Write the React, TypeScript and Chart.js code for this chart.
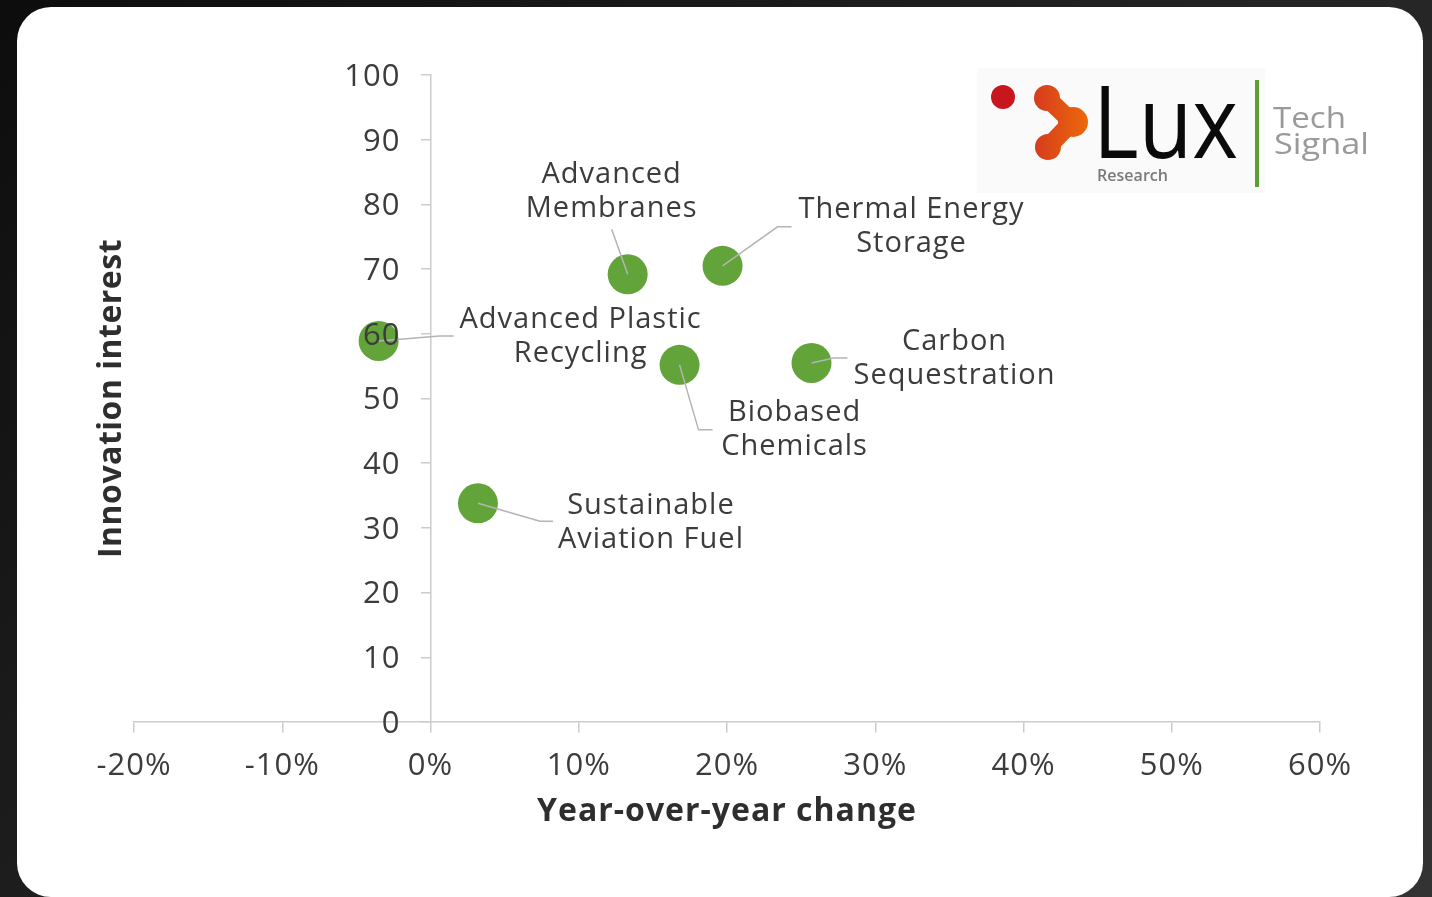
import React, { useEffect, useRef } from "react";
import { Chart, registerables } from "chart.js";

Chart.register(...registerables);

const technologies = [
  ["Advanced", "Membranes"],
  ["Thermal Energy", "Storage"],
  ["Advanced Plastic", "Recycling"],
  ["Biobased", "Chemicals"],
  ["Carbon", "Sequestration"],
  ["Sustainable", "Aviation Fuel"],
];
const yoyChange = [13.3, 19.7, -3.5, 16.8, 25.7, 3.2];
const innovationInterest = [69.2, 70.5, 58.9, 55.2, 55.5, 33.8];

const xTitle = "Year-over-year change";
const yTitle = "Innovation interest";

// label placement relative to each point (pixels): text centre, elbow, end of leader
const labelLayout = [
  { tx: -16, ty: -100, ex: -16, ey: -45, lx: -16, ly: -45 },
  { tx: 189, ty: -56, ex: 55, ey: -39, lx: 69, ly: -39 },
  { tx: 202, ty: -21, ex: 61, ey: -5, lx: 75, ly: -5 },
  { tx: 115, ty: 48, ex: 19, ey: 65, lx: 33, ly: 65 },
  { tx: 143, ty: -21, ex: 22, ey: -5, lx: 36, ly: -5 },
  { tx: 173, ty: 2, ex: 62, ey: 18, lx: 75, ly: 18 },
];

const FONT = "'Open Sans', 'DejaVu Sans', sans-serif";
const TEXT = "#3c3c3c";
const GREEN = "#62a43a";
const Y_LABEL_GAP = 30;

function drawScaledText(ctx: CanvasRenderingContext2D, text: string, x: number, y: number, width: number) {
  const w = ctx.measureText(text).width;
  ctx.save();
  ctx.translate(x, y);
  ctx.scale(width / w, 1);
  ctx.fillText(text, 0, 0);
  ctx.restore();
}

const overlayPlugin = {
  id: "overlay",
  beforeDraw(chart: any) {
    (chart.ctx as any).letterSpacing = "1px";
    const ys = chart.scales.y;
    const items = ys.getLabelItems();
    if (!(items as any)._shifted) {
      items.forEach((it: any) => {
        if (it.options && it.options.translation) {
          it.options.translation[0] -= Y_LABEL_GAP;
          it.options.translation[1] += 2;
        }
      });
      (items as any)._shifted = true;
    }
  },
  afterDatasetsDraw(chart: any) {
    const ctx = chart.ctx as CanvasRenderingContext2D;
    const meta = chart.getDatasetMeta(0);
    ctx.save();
    ctx.strokeStyle = "#b4b4b4";
    ctx.lineWidth = 1.5;
    meta.data.forEach((pt: any, i: number) => {
      const L = labelLayout[i];
      ctx.beginPath();
      ctx.moveTo(pt.x, pt.y);
      ctx.lineTo(pt.x + L.ex, pt.y + L.ey);
      ctx.lineTo(pt.x + L.lx, pt.y + L.ly);
      ctx.stroke();
    });
    ctx.restore();
  },
  afterDraw(chart: any) {
    const ctx = chart.ctx as CanvasRenderingContext2D;
    const meta = chart.getDatasetMeta(0);
    const area = chart.chartArea;
    ctx.save();
    // point labels
    (ctx as any).letterSpacing = "1px";
    ctx.fillStyle = TEXT;
    ctx.font = `400 29px ${FONT}`;
    ctx.textAlign = "center";
    ctx.textBaseline = "middle";
    meta.data.forEach((pt: any, i: number) => {
      const L = labelLayout[i];
      technologies[i].forEach((line, j) => {
        ctx.fillText(line, pt.x + L.tx, pt.y + L.ty + j * 34);
      });
    });
    // axis titles
    ctx.font = `700 32px ${FONT}`;
    ctx.fillStyle = "#2e2e2e";
    ctx.fillText(xTitle, (area.left + area.right) / 2, 805);
    ctx.save();
    (ctx as any).letterSpacing = "0.5px";
    ctx.translate(95, (area.top + area.bottom) / 2);
    ctx.rotate(-Math.PI / 2);
    ctx.fillText(yTitle, 0, 0);
    ctx.restore();

    (ctx as any).letterSpacing = "0px";
    // logo
    ctx.fillStyle = "#fafafa";
    ctx.fillRect(960, 61, 288, 125);
    ctx.fillStyle = "#c8161e";
    ctx.beginPath();
    ctx.arc(986, 90, 12, 0, Math.PI * 2);
    ctx.fill();
    const grad = ctx.createLinearGradient(1016, 0, 1072, 0);
    grad.addColorStop(0, "#d63a1e");
    grad.addColorStop(1, "#ec6a0a");
    ctx.fillStyle = grad;
    ctx.strokeStyle = grad;
    ctx.lineWidth = 18;
    ctx.lineCap = "round";
    ctx.beginPath();
    ctx.moveTo(1030, 91);
    ctx.lineTo(1055, 115);
    ctx.lineTo(1031, 140);
    ctx.stroke();
    [[1030, 91, 13], [1056, 115, 15], [1031, 140, 13]].forEach(([cx, cy, r]) => {
      ctx.beginPath();
      ctx.arc(cx, cy, r, 0, Math.PI * 2);
      ctx.fill();
    });
    ctx.fillStyle = "#0a0a0a";
    ctx.textAlign = "left";
    ctx.textBaseline = "alphabetic";
    ctx.font = `500 101px ${FONT}`;
    drawScaledText(ctx, "Lux", 1076, 151, 145);
    ctx.fillStyle = "#7a7a7a";
    ctx.font = `600 16px ${FONT}`;
    drawScaledText(ctx, "Research", 1080, 174, 71);
    ctx.fillStyle = "#5b9e33";
    ctx.fillRect(1238, 73, 4, 107);
    ctx.fillStyle = "#9a9a9a";
    ctx.font = `400 30px ${FONT}`;
    drawScaledText(ctx, "Tech", 1256, 121, 73);
    drawScaledText(ctx, "Signal", 1257, 147, 95);
    ctx.restore();
  },
};

export default function App() {
  const canvasRef = useRef<HTMLCanvasElement | null>(null);

  useEffect(() => {
    document.body.style.margin = "0";
    const canvas = canvasRef.current!;
    const chart = new Chart(canvas, {
      type: "scatter",
      data: {
        datasets: [
          {
            label: "Technologies",
            data: yoyChange.map((x, i) => ({ x, y: innovationInterest[i] })),
            backgroundColor: GREEN,
            borderWidth: 0,
            pointRadius: 20,
            pointHoverRadius: 20,
          },
        ],
      },
      options: {
        animation: false,
        responsive: false,
        devicePixelRatio: 1,
        layout: { padding: { left: 117, top: 68, right: 103, bottom: 175 } },
        plugins: { legend: { display: false }, tooltip: { enabled: false } },
        scales: {
          x: {
            type: "linear",
            position: { y: 0 } as any,
            min: -20,
            max: 60,
            grid: { drawOnChartArea: false, color: "#cccccc", tickLength: 10, lineWidth: 1.5 },
            border: { color: "#cccccc", width: 1.5 },
            ticks: {
              stepSize: 10,
              color: TEXT,
              font: { family: FONT, size: 31 },
              padding: 16,
              callback: (v: any) => `${v}%`,
            },
          },
          y: {
            type: "linear",
            position: { x: 0 } as any,
            min: 0,
            max: 100,
            grid: { drawOnChartArea: false, color: "#cccccc", tickLength: 9, lineWidth: 1.5 },
            border: { color: "#cccccc", width: 1.5 },
            ticks: {
              z: 1,
              stepSize: 10,
              color: TEXT,
              font: { family: FONT, size: 31 },
              padding: 21,
            },
          },
        },
      },
      plugins: [overlayPlugin],
    });
    return () => chart.destroy();
  }, []);

  return (
    <div
      style={{
        position: "fixed",
        inset: 0,
        background: "linear-gradient(135deg, #0d0d0d 0%, #222 50%, #333 100%)",
      }}
    >
      <div
        style={{
          position: "absolute",
          left: 17,
          top: 7,
          width: 1406,
          height: 890,
          background: "#ffffff",
          borderRadius: 34,
          overflow: "hidden",
        }}
      >
        <canvas ref={canvasRef} width={1406} height={890} style={{ display: "block" }} />
      </div>
    </div>
  );
}
